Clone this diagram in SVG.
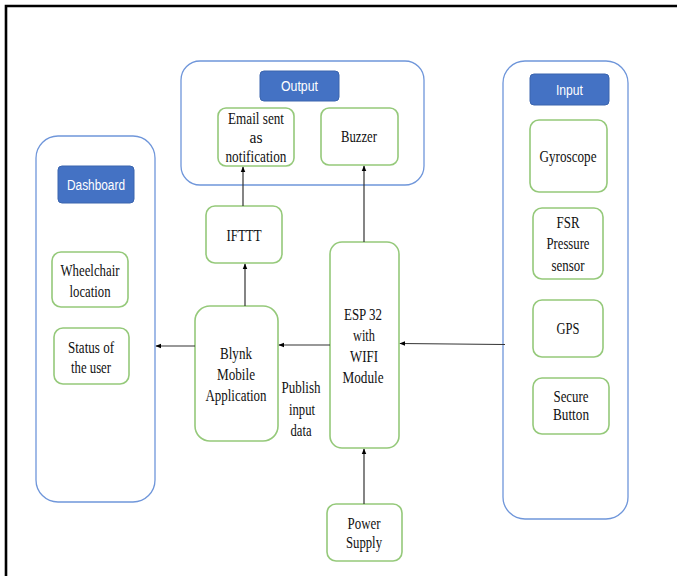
<svg xmlns="http://www.w3.org/2000/svg" width="677" height="576" viewBox="0 0 677 576">
<defs>
<marker id="ah" viewBox="0 0 10 10" refX="9" refY="5" markerWidth="6" markerHeight="6" orient="auto" markerUnits="userSpaceOnUse">
<path d="M0,1 L10,5 L0,9 z" fill="#000"/>
</marker>
<style>
.cont{fill:#fff;stroke:#6F96DA;stroke-width:1.3}
.box{fill:#fff;stroke:#95C97A;stroke-width:1.6}
.lab{fill:#4472C4;stroke:#3A64AE;stroke-width:1}
.t{font-family:"Liberation Serif","Times New Roman",serif;font-size:17.5px;fill:#111;text-anchor:middle}
.w{font-family:"Liberation Sans",Arial,sans-serif;font-size:15.5px;fill:#fff;text-anchor:middle}
.c{stroke:#333;stroke-width:1.2;fill:none;marker-end:url(#ah)}
</style>
</defs>
<rect width="677" height="576" fill="#fff"/>
<path d="M6,576 V6 H677" fill="none" stroke="#000" stroke-width="2.6"/>

<g id="output">
<rect class="cont" x="181" y="61" width="243" height="124" rx="19"/>
<rect class="lab" x="260" y="71" width="79" height="30" rx="4"/>
<text class="w" x="299.5" y="91" textLength="37" lengthAdjust="spacingAndGlyphs">Output</text>
</g>
<g id="email">
<rect class="box" x="218" y="108" width="76" height="58" rx="8"/>
<text class="t" x="256" y="124" textLength="56" lengthAdjust="spacingAndGlyphs">Email sent</text>
<text class="t" x="256" y="143" textLength="13" lengthAdjust="spacingAndGlyphs">as</text>
<text class="t" x="256" y="162" textLength="61" lengthAdjust="spacingAndGlyphs">notification</text>
</g>
<g id="buzzer">
<rect class="box" x="321" y="108" width="77" height="57" rx="8"/>
<text class="t" x="359" y="142" textLength="36" lengthAdjust="spacingAndGlyphs">Buzzer</text>
</g>

<g id="input">
<rect class="cont" x="503" y="61" width="125" height="458" rx="22"/>
<rect class="lab" x="530" y="74" width="79" height="31" rx="4"/>
<text class="w" x="569.5" y="95" textLength="27" lengthAdjust="spacingAndGlyphs">Input</text>
</g>
<g id="gyroscope">
<rect class="box" x="530" y="120" width="77" height="72" rx="9"/>
<text class="t" x="568" y="162" textLength="57" lengthAdjust="spacingAndGlyphs">Gyroscope</text>
</g>
<g id="fsr">
<rect class="box" x="533" y="208" width="70" height="71" rx="9"/>
<text class="t" x="568" y="228" textLength="23" lengthAdjust="spacingAndGlyphs">FSR</text>
<text class="t" x="568" y="249" textLength="43" lengthAdjust="spacingAndGlyphs">Pressure</text>
<text class="t" x="568" y="271" textLength="33" lengthAdjust="spacingAndGlyphs">sensor</text>
</g>
<g id="gps">
<rect class="box" x="533" y="300" width="70" height="57" rx="9"/>
<text class="t" x="568" y="334" textLength="23" lengthAdjust="spacingAndGlyphs">GPS</text>
</g>
<g id="secure">
<rect class="box" x="533" y="378" width="76" height="56" rx="9"/>
<text class="t" x="571" y="402" textLength="35" lengthAdjust="spacingAndGlyphs">Secure</text>
<text class="t" x="571" y="420" textLength="36" lengthAdjust="spacingAndGlyphs">Button</text>
</g>

<g id="dashboard">
<rect class="cont" x="36" y="136" width="119" height="366" rx="22"/>
<rect class="lab" x="58" y="166" width="76" height="37" rx="4"/>
<text class="w" x="96" y="190" textLength="58" lengthAdjust="spacingAndGlyphs">Dashboard</text>
</g>
<g id="wheelchair">
<rect class="box" x="52" y="252" width="76" height="55" rx="9"/>
<text class="t" x="90" y="276" textLength="59" lengthAdjust="spacingAndGlyphs">Wheelchair</text>
<text class="t" x="90" y="297" textLength="41" lengthAdjust="spacingAndGlyphs">location</text>
</g>
<g id="status">
<rect class="box" x="54" y="328" width="75" height="56" rx="9"/>
<text class="t" x="91" y="353" textLength="46" lengthAdjust="spacingAndGlyphs">Status of</text>
<text class="t" x="91" y="373" textLength="40" lengthAdjust="spacingAndGlyphs">the user</text>
</g>

<g id="ifttt">
<rect class="box" x="206" y="206" width="76" height="57" rx="9"/>
<text class="t" x="244" y="241" textLength="35" lengthAdjust="spacingAndGlyphs">IFTTT</text>
</g>
<g id="blynk">
<rect class="box" x="195" y="306" width="83" height="135" rx="15"/>
<text class="t" x="236" y="359" textLength="32" lengthAdjust="spacingAndGlyphs">Blynk</text>
<text class="t" x="236" y="380" textLength="38" lengthAdjust="spacingAndGlyphs">Mobile</text>
<text class="t" x="236" y="401" textLength="61" lengthAdjust="spacingAndGlyphs">Application</text>
</g>
<g id="esp32">
<rect class="box" x="330" y="242" width="69" height="206" rx="12"/>
<text class="t" x="363" y="320" textLength="38" lengthAdjust="spacingAndGlyphs">ESP 32</text>
<text class="t" x="364" y="341" textLength="22" lengthAdjust="spacingAndGlyphs">with</text>
<text class="t" x="364" y="362" textLength="28" lengthAdjust="spacingAndGlyphs">WIFI</text>
<text class="t" x="363" y="383" textLength="41" lengthAdjust="spacingAndGlyphs">Module</text>
</g>
<g id="power">
<rect class="box" x="327" y="504" width="75" height="57" rx="9"/>
<text class="t" x="364" y="529" textLength="33" lengthAdjust="spacingAndGlyphs">Power</text>
<text class="t" x="364" y="548" textLength="36" lengthAdjust="spacingAndGlyphs">Supply</text>
</g>

<g id="connectors">
<line class="c" x1="195" y1="346" x2="156" y2="346"/>
<line class="c" x1="330" y1="345" x2="279" y2="345"/>
<line class="c" x1="505" y1="344.5" x2="400" y2="343.5"/>
<line class="c" x1="245" y1="306" x2="245" y2="264"/>
<line class="c" x1="243" y1="206" x2="243" y2="167"/>
<line class="c" x1="364" y1="242" x2="364" y2="166"/>
<line class="c" x1="364" y1="504" x2="364" y2="449"/>
<text class="t" x="301" y="393" textLength="39" lengthAdjust="spacingAndGlyphs">Publish</text>
<text class="t" x="302" y="415" textLength="26" lengthAdjust="spacingAndGlyphs">input</text>
<text class="t" x="301" y="436" textLength="21" lengthAdjust="spacingAndGlyphs">data</text>
</g>
</svg>
